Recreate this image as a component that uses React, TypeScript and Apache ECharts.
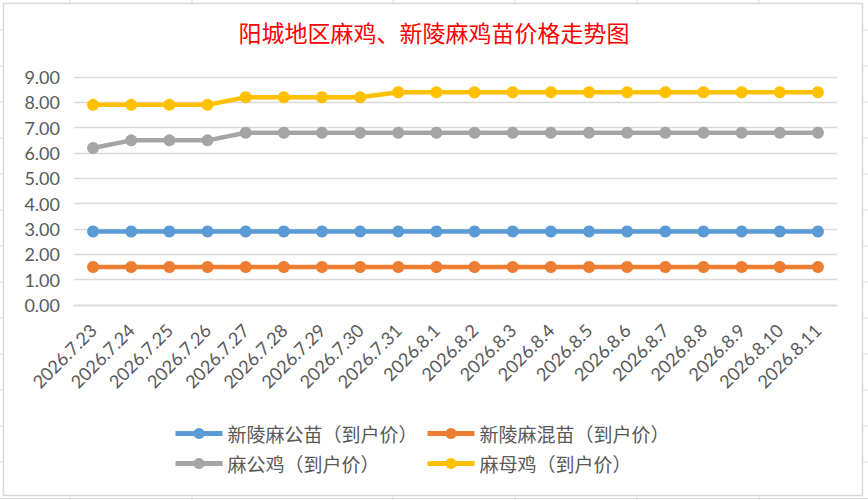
import React, { useEffect, useRef } from "react";
import * as echarts from "echarts";

const categories = [
  "2026.7.23", "2026.7.24", "2026.7.25", "2026.7.26", "2026.7.27",
  "2026.7.28", "2026.7.29", "2026.7.30", "2026.7.31", "2026.8.1",
  "2026.8.2", "2026.8.3", "2026.8.4", "2026.8.5", "2026.8.6",
  "2026.8.7", "2026.8.8", "2026.8.9", "2026.8.10", "2026.8.11",
];

const seriesNames = [
  "新陵麻公苗（到户价）",
  "新陵麻混苗（到户价）",
  "麻公鸡（到户价）",
  "麻母鸡（到户价）",
];

const maleChickValues = [2.9, 2.9, 2.9, 2.9, 2.9, 2.9, 2.9, 2.9, 2.9, 2.9, 2.9, 2.9, 2.9, 2.9, 2.9, 2.9, 2.9, 2.9, 2.9, 2.9];
const mixedChickValues = [1.5, 1.5, 1.5, 1.5, 1.5, 1.5, 1.5, 1.5, 1.5, 1.5, 1.5, 1.5, 1.5, 1.5, 1.5, 1.5, 1.5, 1.5, 1.5, 1.5];
const roosterValues = [6.2, 6.5, 6.5, 6.5, 6.8, 6.8, 6.8, 6.8, 6.8, 6.8, 6.8, 6.8, 6.8, 6.8, 6.8, 6.8, 6.8, 6.8, 6.8, 6.8];
const henValues = [7.9, 7.9, 7.9, 7.9, 8.2, 8.2, 8.2, 8.2, 8.4, 8.4, 8.4, 8.4, 8.4, 8.4, 8.4, 8.4, 8.4, 8.4, 8.4, 8.4];

const colors = ["#5B9BD5", "#ED7D31", "#A5A5A5", "#FFC000"];

const title = "阳城地区麻鸡、新陵麻鸡苗价格走势图";

// spreadsheet cell grid visible outside the chart frame
const sheetRows = [30, 66, 102, 138, 174, 210, 246, 282, 318, 354, 390, 426, 462];
const sheetCols = [70, 192, 393, 515, 637, 759];

export default function App() {
  const ref = useRef<HTMLDivElement>(null);

  useEffect(() => {
    document.body.style.margin = "0";
    if (!ref.current) return;
    const chart = echarts.init(ref.current, undefined, { renderer: "svg" });

    const gridColor = "#D9D9D9";
    const textColor = "#595959";
    const latin = "Lato, 'Noto Sans CJK SC', sans-serif";
    const cjk = "'Noto Sans CJK SC', sans-serif";

    const values = [maleChickValues, mixedChickValues, roosterValues, henValues];

    const deco: any[] = [];
    sheetRows.forEach((y) => {
      deco.push({ type: "line", shape: { x1: 0, y1: y, x2: 3, y2: y }, style: { stroke: gridColor, lineWidth: 1 }, silent: true });
      deco.push({ type: "line", shape: { x1: 863, y1: y, x2: 868, y2: y }, style: { stroke: gridColor, lineWidth: 1 }, silent: true });
    });
    sheetCols.forEach((x) => {
      deco.push({ type: "line", shape: { x1: x, y1: 0, x2: x, y2: 3 }, style: { stroke: gridColor, lineWidth: 1 }, silent: true });
      deco.push({ type: "line", shape: { x1: x, y1: 497, x2: x, y2: 500 }, style: { stroke: gridColor, lineWidth: 1 }, silent: true });
    });
    deco.push({ type: "line", shape: { x1: 0, y1: 498.5, x2: 868, y2: 498.5 }, style: { stroke: gridColor, lineWidth: 1 }, silent: true });
    deco.push({
      type: "rect",
      shape: { x: 3.5, y: 3.5, width: 859, height: 492 },
      style: { fill: "none", stroke: gridColor, lineWidth: 1.5 },
      silent: true,
      z: 100,
    });

    const legendBase = {
      orient: "vertical",
      top: 419,
      itemWidth: 47,
      itemHeight: 14,
      itemGap: 11,
      lineStyle: { width: 5 },
      textStyle: { color: textColor, fontSize: 19, lineHeight: 19, fontFamily: cjk },
    };

    chart.setOption({
      animation: false,
      backgroundColor: "#FFFFFF",
      title: {
        text: title,
        left: "center",
        top: 20,
        padding: 0,
        textStyle: { color: "#FF0000", fontSize: 23, fontWeight: "normal", fontFamily: cjk },
      },
      graphic: deco,
      legend: [
        { ...legendBase, left: 168, data: [seriesNames[0], seriesNames[2]] },
        { ...legendBase, left: 420, data: [seriesNames[1], seriesNames[3]] },
      ],
      grid: { left: 74, right: 31, top: 77, bottom: 195, containLabel: false },
      xAxis: {
        type: "category",
        data: categories,
        boundaryGap: true,
        axisLine: { show: true, lineStyle: { color: gridColor, width: 1.3 } },
        axisTick: { show: false },
        axisLabel: {
          rotate: 45,
          interval: 0,
          margin: 22,
          color: textColor,
          fontSize: 18,
          fontFamily: latin,
        },
      },
      yAxis: {
        type: "value",
        min: 0,
        max: 9,
        interval: 1,
        axisLine: { show: false },
        axisTick: { show: false },
        splitLine: { lineStyle: { color: gridColor, width: 1.3 } },
        axisLabel: {
          margin: 14,
          color: textColor,
          fontSize: 18,
          fontFamily: latin,
          formatter: (v: number) => v.toFixed(2),
        },
      },
      series: seriesNames.map((name, i) => ({
        name,
        type: "line",
        data: values[i],
        symbol: "circle",
        symbolSize: 12,
        color: colors[i],
        itemStyle: { color: colors[i] },
        lineStyle: { color: colors[i], width: 4.5 },
      })),
    });

    return () => chart.dispose();
  }, []);

  return <div ref={ref} style={{ width: 868, height: 500 }} />;
}
